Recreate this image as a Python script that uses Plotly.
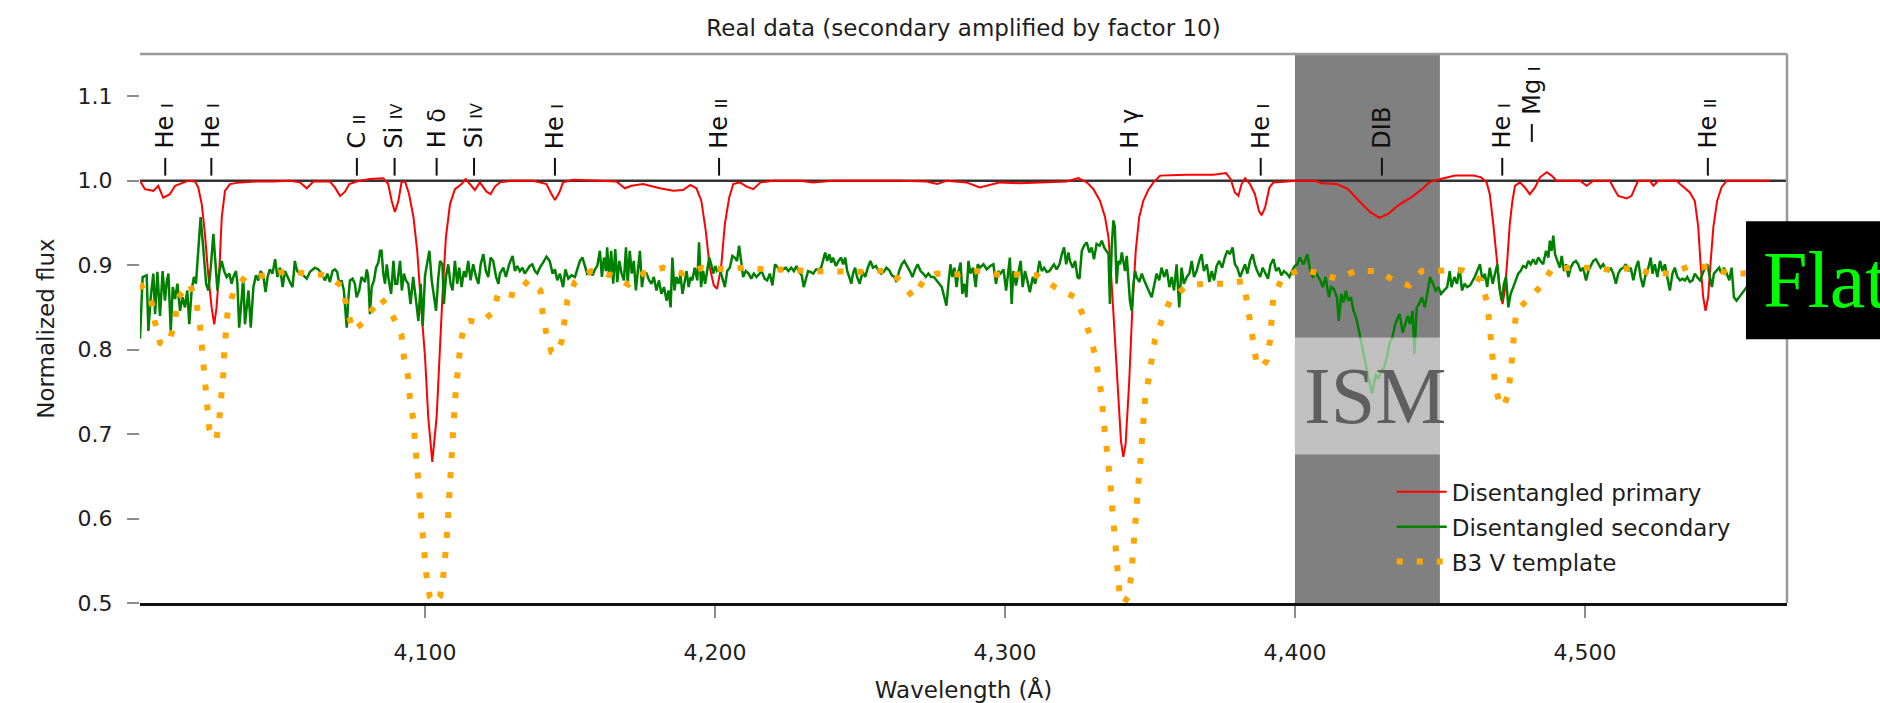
import plotly.graph_objects as go

# ---------------------------------------------------------------- data
# Disentangled primary (normalized flux vs wavelength in Angstrom)
red_wl = [
    4001.7, 4003.4, 4006.3, 4008.0, 4009.7, 4012.0, 4013.8, 4016.1, 4018.4, 4020.7,
    4021.8, 4023.0, 4024.1, 4025.3, 4026.4, 4027.3, 4028.1, 4029.1, 4029.9, 4031.0,
    4032.7, 4036.2, 4041.9, 4047.7, 4053.4, 4056.9, 4059.2, 4061.5, 4067.2, 4068.9,
    4070.7, 4072.4, 4073.9, 4076.4, 4081.0, 4085.6, 4087.3, 4088.5, 4089.6, 4090.8,
    4091.9, 4093.1, 4094.5, 4096.0, 4097.3, 4098.5, 4100.0, 4101.1, 4102.5, 4104.0,
    4104.9, 4106.1, 4107.2, 4108.6, 4110.3, 4112.6, 4114.0, 4115.5, 4117.2, 4118.9,
    4121.2, 4122.6, 4124.1, 4125.8, 4130.4, 4137.3, 4141.9, 4143.3, 4144.8, 4146.3,
    4147.6, 4151.1, 4160.3, 4166.0, 4168.9, 4171.2, 4175.2, 4181.0, 4185.6, 4189.0,
    4191.5, 4193.6, 4195.3, 4196.8, 4198.2, 4199.6, 4200.7, 4202.1, 4203.4, 4204.9,
    4206.3, 4208.6, 4210.9, 4213.2, 4215.7, 4220.1, 4229.3, 4233.8, 4240.7, 4252.2,
    4263.7, 4273.0, 4276.6, 4279.8, 4286.7, 4291.3, 4298.3, 4305.2, 4314.4, 4321.3,
    4325.3, 4328.2, 4330.5, 4332.8, 4334.5, 4335.7, 4336.8, 4338.0, 4339.1, 4340.0,
    4340.8, 4341.6, 4342.8, 4343.9, 4345.1, 4346.3, 4347.7, 4349.4, 4351.2, 4353.5,
    4362.7, 4371.9, 4376.2, 4377.8, 4379.3, 4380.5, 4381.6, 4382.8, 4384.5, 4386.2,
    4387.6, 4388.5, 4389.7, 4391.2, 4392.6, 4400.6, 4406.8, 4409.4, 4414.5, 4418.3,
    4422.1, 4425.9, 4429.1, 4432.3, 4436.1, 4440.0, 4443.8, 4446.3, 4450.2, 4455.3,
    4461.6, 4464.2, 4466.1, 4467.2, 4468.4, 4469.5, 4470.7, 4471.6, 4472.4, 4473.3,
    4474.1, 4475.0, 4475.9, 4477.6, 4479.3, 4481.0, 4482.8, 4484.5, 4486.8, 4488.5,
    4490.2, 4498.3, 4500.6, 4502.9, 4508.6, 4509.8, 4511.5, 4514.4, 4516.1, 4517.3,
    4518.4, 4522.4, 4523.6, 4525.3, 4531.6, 4532.8, 4536.2, 4537.9, 4539.1, 4539.9,
    4540.8, 4541.6, 4542.5, 4543.3, 4544.3, 4545.6, 4547.1, 4548.9, 4555.8, 4563.8,
]
red_flux = [
    1.000, 0.990, 0.988, 0.994, 0.980, 0.984, 0.994, 0.997, 1.000, 0.999,
    0.992, 0.972, 0.937, 0.886, 0.850, 0.830, 0.850, 0.897, 0.957, 0.988,
    0.996, 0.998, 0.999, 0.999, 1.000, 0.998, 0.991, 0.999, 0.999, 0.992,
    0.982, 0.987, 0.996, 0.999, 1.002, 1.003, 0.996, 0.976, 0.963, 0.976,
    0.998, 0.999, 0.984, 0.957, 0.917, 0.858, 0.791, 0.720, 0.667, 0.720,
    0.791, 0.870, 0.933, 0.972, 0.990, 0.996, 1.002, 0.996, 0.989, 0.998,
    0.987, 0.984, 0.993, 0.998, 1.000, 1.000, 0.996, 0.986, 0.977, 0.986,
    0.998, 1.001, 1.000, 0.999, 0.991, 0.994, 0.996, 0.991, 0.988, 0.989,
    0.995, 0.991, 0.976, 0.941, 0.897, 0.876, 0.872, 0.897, 0.949, 0.980,
    0.996, 0.998, 0.993, 0.990, 0.998, 1.000, 1.000, 0.998, 1.000, 1.000,
    1.000, 0.999, 0.996, 1.000, 0.998, 0.992, 0.998, 0.997, 0.998, 0.999,
    1.003, 0.998, 0.990, 0.976, 0.957, 0.933, 0.878, 0.807, 0.736, 0.692,
    0.673, 0.688, 0.759, 0.846, 0.917, 0.957, 0.976, 0.989, 0.998, 1.006,
    1.007, 1.007, 1.009, 1.002, 0.986, 0.982, 0.996, 1.003, 0.996, 0.984,
    0.964, 0.959, 0.968, 0.992, 0.998, 1.000, 1.000, 0.997, 0.996, 0.990,
    0.976, 0.963, 0.956, 0.961, 0.972, 0.980, 0.990, 0.998, 1.002, 1.006,
    1.006, 1.004, 0.998, 0.984, 0.949, 0.909, 0.870, 0.854, 0.870, 0.909,
    0.949, 0.976, 0.994, 0.998, 0.992, 0.984, 0.992, 1.004, 1.010, 1.006,
    1.000, 1.000, 0.994, 1.000, 1.000, 0.992, 0.982, 0.979, 0.982, 0.992,
    1.000, 1.000, 0.994, 1.000, 1.000, 0.996, 0.986, 0.976, 0.945, 0.901,
    0.862, 0.846, 0.862, 0.901, 0.945, 0.976, 0.992, 1.000, 1.000, 1.000,
]

# Disentangled secondary (amplified by a factor 10)
green_wl = [
    4001.7, 4002.6, 4004.0, 4004.6, 4005.4, 4006.3, 4006.9, 4007.7, 4008.6, 4009.5,
    4010.3, 4010.9, 4011.5, 4012.3, 4013.0, 4013.8, 4014.6, 4015.5, 4016.4, 4017.2,
    4018.0, 4018.7, 4019.5, 4020.3, 4021.0, 4021.8, 4022.6, 4023.5, 4024.5, 4025.3,
    4026.1, 4027.0, 4027.7, 4028.4, 4029.1, 4029.9, 4030.7, 4031.6, 4032.5, 4033.3,
    4033.9, 4034.8, 4035.3, 4035.9, 4036.8, 4037.3, 4037.9, 4038.5, 4039.1, 4039.9,
    4040.8, 4041.7, 4042.5, 4043.3, 4044.2, 4045.0, 4045.7, 4046.5, 4047.4, 4048.3,
    4049.1, 4050.0, 4050.9, 4051.7, 4052.5, 4053.4, 4054.3, 4055.1, 4055.9, 4056.9,
    4058.0, 4059.2, 4060.3, 4062.0, 4063.2, 4064.3, 4065.5, 4066.3, 4067.2, 4068.1,
    4068.9, 4069.7, 4070.4, 4071.2, 4072.0, 4073.0, 4073.5, 4074.1, 4075.0, 4075.8,
    4076.4, 4077.3, 4078.1, 4079.3, 4079.9, 4080.4, 4081.0, 4081.6, 4082.4, 4083.1,
    4083.9, 4084.5, 4085.0, 4085.6, 4086.2, 4086.8, 4087.5, 4088.3, 4089.1, 4089.7,
    4090.4, 4091.4, 4092.0, 4092.7, 4093.4, 4094.2, 4095.0, 4095.9, 4096.9, 4097.7,
    4098.5, 4099.2, 4100.0, 4100.5, 4101.5, 4102.3, 4102.8, 4103.8, 4104.6, 4105.2,
    4106.0, 4106.5, 4107.2, 4108.0, 4108.8, 4109.5, 4110.3, 4111.1, 4111.8, 4112.6,
    4113.4, 4114.1, 4114.9, 4115.7, 4116.6, 4117.6, 4118.4, 4119.2, 4120.1, 4121.0,
    4121.8, 4122.6, 4123.5, 4124.5, 4125.3, 4125.8,
    4127.0, 4127.9, 4129.0, 4130.2, 4131.0, 4131.8, 4132.7, 4133.6, 4134.4, 4135.2,
    4136.1, 4137.0, 4137.9, 4138.7, 4139.6, 4140.7, 4141.9, 4143.0, 4144.0, 4144.8,
    4145.6, 4146.5, 4147.6, 4148.4, 4149.4, 4150.5, 4151.7, 4152.5, 4153.4, 4154.3,
    4155.1, 4155.9, 4156.8, 4157.8, 4158.6, 4159.4, 4160.3, 4161.0, 4161.7, 4162.4,
    4162.8, 4163.5, 4164.2, 4164.9, 4165.6, 4166.3, 4167.0, 4167.8, 4168.6, 4169.3,
    4169.9, 4170.6, 4171.3, 4172.0, 4172.7, 4173.5, 4174.1, 4174.8, 4175.5, 4176.4,
    4177.3, 4178.1, 4178.9, 4179.8, 4180.7, 4181.5, 4182.4, 4183.3, 4184.0, 4184.7,
    4185.3, 4186.0, 4186.7, 4187.4, 4188.1, 4188.8, 4189.5, 4190.2, 4190.9, 4191.6,
    4192.2, 4193.0, 4193.9, 4194.5, 4195.2, 4195.9, 4196.6, 4197.3, 4198.0, 4198.7,
    4199.4, 4200.1, 4200.7, 4201.7, 4202.6, 4203.4, 4204.2, 4205.1, 4206.0, 4206.8,
    4207.6, 4208.3, 4209.0, 4209.7, 4210.6, 4211.6, 4212.5, 4213.4, 4214.3, 4215.2,
    4216.1, 4217.1, 4218.0, 4218.9, 4219.8, 4220.7, 4221.7, 4222.6, 4223.5, 4224.4,
    4225.3, 4226.3, 4227.2, 4228.1, 4229.0, 4229.9, 4230.6, 4231.3, 4232.1, 4232.9,
    4233.9, 4234.8, 4235.7, 4236.6, 4237.3, 4238.0, 4238.7, 4239.4, 4240.1, 4240.7,
    4241.7, 4242.6, 4243.5, 4244.2, 4244.9, 4245.6, 4246.3, 4247.0, 4247.6, 4248.3,
    4249.0, 4249.9, 4250.9, 4251.8, 4252.7, 4253.6, 4254.5, 4255.5, 4256.4, 4257.3,
    4258.2, 4259.1, 4260.1, 4261.0, 4261.9, 4262.6, 4263.5, 4264.4, 4265.3, 4266.3,
    4267.2, 4268.1, 4269.0, 4269.9, 4270.9, 4271.8, 4272.7, 4273.6, 4274.5, 4275.5,
    4276.4, 4277.3, 4278.2, 4279.1, 4279.8, 4280.5, 4281.2, 4281.9, 4282.6, 4283.3,
    4284.0, 4284.7, 4285.3, 4286.0, 4286.7, 4287.4, 4288.1, 4289.0, 4289.9, 4290.6,
    4291.4, 4292.6, 4293.7, 4294.9, 4296.0, 4296.9, 4297.7, 4298.5, 4299.5, 4300.4,
    4301.2, 4301.7, 4302.3, 4302.9, 4303.8, 4304.6, 4305.4, 4306.1, 4306.9, 4307.7,
    4308.6, 4309.6, 4310.4, 4311.2, 4311.9, 4312.7, 4313.5, 4314.4, 4315.3, 4316.1,
    4316.9, 4317.8, 4318.8, 4319.6, 4320.4, 4321.1, 4321.9, 4322.4, 4323.4, 4324.2,
    4325.0, 4325.7, 4326.5, 4327.3, 4328.2, 4329.1, 4329.9, 4330.7, 4331.6, 4332.6,
    4333.4, 4334.2, 4334.9, 4335.7, 4336.2, 4336.8, 4337.4, 4337.9, 4338.5, 4339.1,
    4339.7, 4340.3, 4340.8, 4341.4, 4342.0, 4342.6, 4343.1, 4343.7, 4344.3, 4344.9,
    4345.4, 4346.3, 4347.2, 4348.0, 4348.9, 4349.8, 4350.6, 4351.4, 4352.3, 4353.2,
    4354.0, 4354.9, 4355.8, 4356.7, 4357.5, 4358.3, 4359.2, 4360.1, 4360.9, 4361.7,
    4362.7, 4363.6, 4364.4, 4365.2, 4366.1, 4367.0, 4367.8, 4368.6, 4369.6, 4370.5,
    4371.3, 4372.1, 4373.0, 4373.9, 4374.9, 4375.8, 4376.7, 4377.6, 4378.5, 4379.3,
    4380.1, 4381.1, 4382.0, 4382.8, 4383.6, 4384.5, 4385.4, 4386.2, 4387.0, 4388.0,
    4388.9, 4389.8, 4390.7, 4391.6, 4392.6, 4393.5, 4394.4, 4395.3, 4396.2, 4397.2,
    4398.1, 4399.0, 4399.9, 4400.8,
    4401.7, 4403.0, 4404.3, 4405.3, 4406.2, 4407.4, 4408.7, 4409.6, 4410.6, 4411.7,
    4412.5, 4413.4, 4414.5, 4415.1, 4416.0, 4416.8, 4417.6, 4418.3, 4419.3, 4420.2,
    4421.1, 4422.1, 4423.1, 4424.4, 4425.4, 4426.6, 4427.9, 4428.7, 4429.8, 4430.8,
    4431.7, 4432.6, 4433.6, 4434.6, 4435.5, 4436.1, 4437.2, 4438.1, 4438.9, 4439.7,
    4440.6, 4441.2, 4442.0, 4442.8, 4443.8, 4444.8, 4445.7, 4446.6, 4447.6, 4448.6,
    4449.5, 4450.4, 4451.4, 4452.5, 4453.4, 4454.0, 4455.0, 4455.9, 4456.8, 4457.6,
    4458.5, 4459.4, 4460.4,
    4462.0, 4463.8, 4464.7, 4465.5, 4466.3, 4467.2, 4468.2, 4469.0, 4469.8, 4470.5,
    4471.3, 4472.1, 4472.8, 4473.6, 4474.4, 4475.3, 4476.2, 4477.0, 4477.8, 4478.7,
    4479.7, 4480.5, 4481.3, 4482.2, 4483.1, 4483.9, 4484.7, 4485.6, 4486.6, 4487.4,
    4487.9, 4488.5, 4489.1, 4489.7, 4490.5, 4491.4, 4492.0, 4492.8, 4493.5, 4494.3,
    4495.1, 4496.0, 4496.9, 4497.7, 4498.5, 4499.4, 4500.4, 4501.2, 4502.0, 4502.9,
    4503.8, 4504.6, 4505.4, 4506.3, 4507.3, 4508.1, 4508.9, 4509.8, 4510.7, 4511.5,
    4512.3, 4513.2, 4514.1, 4515.0, 4515.8, 4516.7, 4517.6, 4518.4, 4519.2, 4520.1,
    4521.0, 4521.9, 4522.7, 4523.3, 4524.1, 4525.0, 4525.9, 4526.8, 4527.6, 4528.4,
    4529.3, 4530.2, 4531.0, 4531.9, 4532.8, 4533.7, 4534.5, 4535.3, 4536.2, 4537.1,
    4537.9, 4538.7, 4539.7, 4540.6, 4541.4, 4542.2, 4543.1, 4543.8, 4544.5, 4545.4,
    4546.3, 4547.1, 4547.9, 4548.9, 4549.8, 4550.6, 4551.4, 4552.3, 4553.2, 4554.0,
    4554.8, 4555.8, 4560.0, 4563.5,
]
green_flux = [
    0.813, 0.886, 0.888, 0.822, 0.862, 0.890, 0.842, 0.892, 0.840, 0.893,
    0.858, 0.880, 0.890, 0.822, 0.874, 0.860, 0.878, 0.846, 0.862, 0.850,
    0.870, 0.830, 0.870, 0.886, 0.878, 0.917, 0.957, 0.921, 0.878, 0.870,
    0.897, 0.937, 0.905, 0.870, 0.893, 0.905, 0.893, 0.886, 0.890, 0.878,
    0.886, 0.893, 0.878, 0.826, 0.862, 0.886, 0.830, 0.850, 0.870, 0.826,
    0.874, 0.888, 0.882, 0.893, 0.888, 0.868, 0.886, 0.895, 0.890, 0.907,
    0.886, 0.897, 0.874, 0.893, 0.886, 0.880, 0.874, 0.905, 0.893, 0.890,
    0.888, 0.884, 0.892, 0.897, 0.895, 0.890, 0.882, 0.890, 0.880, 0.893,
    0.895, 0.892, 0.878, 0.882, 0.870, 0.826, 0.858, 0.882, 0.884, 0.878,
    0.862, 0.870, 0.886, 0.880, 0.895, 0.886, 0.842, 0.874, 0.882, 0.897,
    0.903, 0.917, 0.917, 0.890, 0.878, 0.901, 0.882, 0.866, 0.905, 0.878,
    0.878, 0.905, 0.870, 0.890, 0.882, 0.878, 0.854, 0.886, 0.858, 0.834,
    0.878, 0.828, 0.888, 0.897, 0.917, 0.882, 0.870, 0.846, 0.886, 0.905,
    0.901, 0.854, 0.886, 0.901, 0.878, 0.870, 0.905, 0.878, 0.897, 0.874,
    0.893, 0.886, 0.905, 0.882, 0.901, 0.886, 0.878, 0.901, 0.913, 0.893,
    0.886, 0.909, 0.905, 0.886, 0.878, 0.890,
    0.897, 0.886, 0.901, 0.911, 0.893, 0.899, 0.893, 0.897, 0.890, 0.895,
    0.899, 0.901, 0.893, 0.890, 0.897, 0.903, 0.910, 0.905, 0.890, 0.895,
    0.882, 0.890, 0.874, 0.895, 0.884, 0.888, 0.886, 0.895, 0.905, 0.909,
    0.899, 0.890, 0.893, 0.888, 0.895, 0.899, 0.917, 0.886, 0.909, 0.893,
    0.921, 0.886, 0.917, 0.878, 0.919, 0.880, 0.905, 0.890, 0.882, 0.921,
    0.878, 0.917, 0.890, 0.905, 0.870, 0.901, 0.917, 0.874, 0.890, 0.890,
    0.882, 0.878, 0.886, 0.870, 0.882, 0.866, 0.874, 0.858, 0.870, 0.850,
    0.909, 0.870, 0.886, 0.878, 0.888, 0.866, 0.878, 0.893, 0.874, 0.886,
    0.882, 0.897, 0.882, 0.927, 0.874, 0.893, 0.878, 0.897, 0.909, 0.901,
    0.890, 0.899, 0.893, 0.895, 0.882, 0.874, 0.893, 0.897, 0.911, 0.909,
    0.905, 0.923, 0.905, 0.886, 0.893, 0.890, 0.884, 0.890, 0.886, 0.890,
    0.893, 0.884, 0.882, 0.890, 0.876, 0.901, 0.897, 0.893, 0.895, 0.897,
    0.893, 0.897, 0.893, 0.899, 0.892, 0.888, 0.874, 0.884, 0.893, 0.892,
    0.890, 0.895, 0.895, 0.897, 0.905, 0.915, 0.905, 0.913, 0.903, 0.909,
    0.899, 0.905, 0.909, 0.901, 0.909, 0.893, 0.886, 0.878, 0.890, 0.897,
    0.886, 0.878, 0.892, 0.886, 0.897, 0.905, 0.897, 0.899, 0.893, 0.890,
    0.892, 0.897, 0.894, 0.888, 0.886, 0.880, 0.893, 0.901, 0.905, 0.899,
    0.893, 0.886, 0.895, 0.901, 0.893, 0.890, 0.886, 0.890, 0.886, 0.886,
    0.882, 0.878, 0.874, 0.862, 0.852, 0.878, 0.901, 0.886, 0.897, 0.874,
    0.893, 0.903, 0.866, 0.878, 0.862, 0.905, 0.890, 0.897, 0.874, 0.901,
    0.897, 0.901, 0.895, 0.899, 0.901, 0.878, 0.893, 0.890, 0.895, 0.870,
    0.890, 0.909, 0.854, 0.893, 0.876, 0.890, 0.905, 0.874, 0.893, 0.882,
    0.868, 0.886, 0.878, 0.890, 0.905, 0.893, 0.897, 0.892, 0.893, 0.897,
    0.901, 0.895, 0.901, 0.913, 0.921, 0.901, 0.915, 0.905, 0.897, 0.905,
    0.886, 0.884, 0.917, 0.923, 0.927, 0.915, 0.921, 0.907, 0.925, 0.923,
    0.929, 0.921, 0.917, 0.913, 0.854, 0.921, 0.953, 0.945, 0.878, 0.905,
    0.901, 0.915, 0.905, 0.893, 0.911, 0.878, 0.858, 0.846, 0.878, 0.893,
    0.886, 0.880, 0.890, 0.882, 0.874, 0.868, 0.862, 0.874, 0.890, 0.882,
    0.897, 0.886, 0.895, 0.874, 0.886, 0.870, 0.901, 0.850, 0.897, 0.878,
    0.886, 0.890, 0.905, 0.886, 0.893, 0.905, 0.913, 0.893, 0.901, 0.880,
    0.893, 0.882, 0.899, 0.905, 0.897, 0.909, 0.917, 0.913, 0.921, 0.901,
    0.897, 0.886, 0.893, 0.901, 0.890, 0.905, 0.913, 0.901, 0.893, 0.886,
    0.897, 0.890, 0.884, 0.901, 0.907, 0.893, 0.897, 0.888, 0.893, 0.890,
    0.886, 0.893, 0.899, 0.901,
    0.909, 0.901, 0.913, 0.893, 0.886, 0.890, 0.882, 0.874, 0.886, 0.862,
    0.874, 0.872, 0.862, 0.834, 0.866, 0.856, 0.870, 0.858, 0.862, 0.846,
    0.838, 0.822, 0.803, 0.783, 0.767, 0.748, 0.771, 0.765, 0.775, 0.779,
    0.791, 0.807, 0.815, 0.830, 0.838, 0.842, 0.820, 0.832, 0.840, 0.830,
    0.846, 0.795, 0.850, 0.854, 0.862, 0.850, 0.866, 0.886, 0.878, 0.870,
    0.874, 0.866, 0.870, 0.874, 0.893, 0.874, 0.886, 0.878, 0.897, 0.870,
    0.878, 0.874, 0.876,
    0.886, 0.901, 0.882, 0.890, 0.874, 0.897, 0.878, 0.890, 0.901, 0.874,
    0.858, 0.878, 0.886, 0.850, 0.866, 0.874, 0.882, 0.890, 0.893, 0.899,
    0.897, 0.905, 0.901, 0.907, 0.901, 0.909, 0.905, 0.901, 0.917, 0.909,
    0.929, 0.917, 0.935, 0.913, 0.905, 0.897, 0.911, 0.893, 0.901, 0.886,
    0.897, 0.903, 0.905, 0.901, 0.893, 0.897, 0.882, 0.893, 0.899, 0.905,
    0.907, 0.901, 0.897, 0.901, 0.895, 0.893, 0.897, 0.890, 0.878, 0.890,
    0.895, 0.897, 0.901, 0.893, 0.897, 0.882, 0.897, 0.905, 0.886, 0.874,
    0.890, 0.897, 0.909, 0.890, 0.901, 0.886, 0.905, 0.893, 0.901, 0.886,
    0.870, 0.890, 0.897, 0.886, 0.882, 0.884, 0.882, 0.886, 0.880, 0.882,
    0.890, 0.886, 0.882, 0.890, 0.897, 0.901, 0.886, 0.874, 0.890, 0.893,
    0.897, 0.890, 0.897, 0.890, 0.882, 0.897, 0.862, 0.858, 0.862, 0.866,
    0.870, 0.874, 0.872, 0.868,
]

# B3 V template spectrum
tmpl_wl = [
    4001.7, 4005.7, 4006.9, 4008.6, 4010.3, 4012.0, 4013.8, 4014.9, 4018.9, 4021.2,
    4022.4, 4023.0, 4023.5, 4024.1, 4024.7, 4025.6, 4027.0, 4028.1, 4029.1, 4029.9,
    4030.4, 4030.7, 4031.4, 4031.9, 4033.9, 4037.9, 4045.4, 4052.3, 4059.2, 4066.1,
    4071.8, 4073.0, 4075.3, 4079.3, 4084.5, 4087.3, 4089.1, 4091.9, 4092.7, 4094.2,
    4094.8, 4095.9, 4096.5, 4097.3, 4097.7, 4098.3, 4098.8, 4099.4, 4100.4, 4101.6,
    4103.4, 4105.2, 4106.4, 4107.4, 4107.8, 4108.1, 4108.4, 4108.6, 4109.2, 4109.8,
    4110.3, 4110.9, 4111.5, 4112.3, 4113.8, 4115.5, 4118.9, 4123.5, 4125.3, 4131.0,
    4135.6, 4139.8, 4140.5, 4141.7, 4143.6, 4145.3, 4147.1, 4148.2, 4149.1, 4151.7,
    4157.4, 4164.3, 4170.1, 4175.2, 4182.1, 4189.0, 4195.9, 4203.4, 4210.3, 4217.8,
    4225.2, 4232.1, 4239.0, 4245.9, 4252.8, 4259.7, 4264.3, 4268.3, 4271.8, 4276.4,
    4283.8, 4290.2, 4297.1, 4304.0, 4310.9, 4317.3, 4324.2, 4327.0, 4329.3, 4331.1,
    4332.2, 4333.4, 4333.9, 4334.8, 4335.3, 4336.2, 4336.8, 4337.4, 4337.7, 4338.6,
    4339.6, 4341.0, 4342.6, 4343.6, 4344.3, 4344.9, 4345.4, 4346.0, 4346.6, 4347.1,
    4347.7, 4348.3, 4349.4, 4350.6, 4351.7, 4354.0, 4356.9, 4362.7, 4369.6, 4375.9,
    4382.2, 4383.4, 4384.5, 4385.7, 4386.8, 4388.5, 4390.3, 4391.4, 4392.0, 4392.5,
    4395.4, 4401.7, 4407.4, 4414.5, 4420.8, 4428.5, 4434.2, 4439.3, 4443.8, 4451.4,
    4457.8, 4464.2, 4466.1, 4467.0, 4467.8, 4468.4, 4469.0, 4470.7, 4472.1, 4473.6,
    4474.4, 4475.1, 4475.6, 4476.4, 4479.9, 4485.1, 4488.5, 4495.4, 4502.9, 4509.5,
    4516.5, 4522.9, 4529.3, 4535.6, 4542.6, 4549.7, 4554.8, 4563.8,
]
tmpl_flux = [
    0.878, 0.856, 0.832, 0.808, 0.805, 0.811, 0.836, 0.862, 0.878, 0.854,
    0.828, 0.803, 0.779, 0.753, 0.730, 0.706, 0.694, 0.694, 0.720, 0.743,
    0.770, 0.794, 0.819, 0.844, 0.868, 0.886, 0.888, 0.893, 0.890, 0.888,
    0.874, 0.848, 0.822, 0.834, 0.862, 0.850, 0.838, 0.817, 0.791, 0.767,
    0.742, 0.718, 0.693, 0.667, 0.643, 0.619, 0.596, 0.572, 0.535, 0.508,
    0.500, 0.508, 0.535, 0.572, 0.596, 0.619, 0.641, 0.665, 0.688, 0.714,
    0.738, 0.761, 0.785, 0.809, 0.832, 0.834, 0.832, 0.844, 0.868, 0.864,
    0.882, 0.870, 0.845, 0.821, 0.797, 0.795, 0.810, 0.834, 0.858, 0.880,
    0.893, 0.888, 0.877, 0.890, 0.897, 0.890, 0.897, 0.895, 0.897, 0.895,
    0.895, 0.893, 0.893, 0.893, 0.892, 0.894, 0.880, 0.862, 0.881, 0.890,
    0.889, 0.893, 0.889, 0.889, 0.888, 0.874, 0.862, 0.840, 0.817, 0.793,
    0.769, 0.744, 0.720, 0.694, 0.671, 0.647, 0.621, 0.598, 0.572, 0.535,
    0.508, 0.500, 0.508, 0.535, 0.572, 0.598, 0.621, 0.641, 0.665, 0.690,
    0.716, 0.740, 0.763, 0.788, 0.811, 0.834, 0.858, 0.876, 0.878, 0.878,
    0.881, 0.858, 0.832, 0.807, 0.783, 0.779, 0.787, 0.811, 0.836, 0.860,
    0.884, 0.895, 0.891, 0.884, 0.893, 0.893, 0.882, 0.876, 0.893, 0.893,
    0.894, 0.882, 0.858, 0.834, 0.808, 0.785, 0.759, 0.734, 0.733, 0.748,
    0.771, 0.797, 0.822, 0.846, 0.858, 0.876, 0.895, 0.897, 0.897, 0.894,
    0.897, 0.890, 0.890, 0.898, 0.898, 0.890, 0.890, 0.893,
]

# identified spectral lines: wavelength, ion, ionisation stage, label row
line_wl = [4010.4, 4026.3, 4076.5, 4089.5, 4104.0, 4116.9, 4144.8,
           4201.4, 4343.1, 4388.2, 4430.0, 4471.5, 4481.7, 4542.4]
line_ion = ["He", "He", "C", "Si", "H", "Si", "He",
            "He", "H", "He", "DIB", "He", "Mg", "He"]
line_stage = ["I", "I", "II", "IV", "δ", "IV", "I",
              "II", "γ", "I", "", "I", "I", "II"]
line_row = [0, 0, 0, 0, 0, 0, 0, 0, 0, 0, 0, 0, 1, 0]

dib_band = [4400, 4450]          # interstellar band region
ism_flux = [0.6757, 0.8142]      # vertical extent of the ISM tag

x_range = [4001.7, 4569.7]
y_range = [0.5, 1.15]
x_ticks = [4100, 4200, 4300, 4400, 4500]
y_ticks = [0.5, 0.6, 0.7, 0.8, 0.9, 1.0, 1.1]

# ---------------------------------------------------------------- figure
FONT = "DejaVu Sans"
SERIF = "Liberation Serif"
INK = "#1e1e1e"

fig = go.Figure()
fig.add_trace(go.Scatter(
    x=red_wl, y=red_flux, mode="lines", name="Disentangled primary",
    legendgroup="p", line=dict(color="#ff0000", width=2)))
fig.add_trace(go.Scatter(
    x=green_wl, y=green_flux, mode="lines", name="Disentangled secondary",
    legendgroup="s", line=dict(color="#008000", width=2.5)))
fig.add_trace(go.Scatter(
    x=tmpl_wl, y=tmpl_flux, mode="lines", name="B3 V template",
    legendgroup="t", line=dict(color="#ffa500", width=6, dash="6px,14px")))

shapes = [
    # DIB region shading
    dict(type="rect", xref="x", yref="paper", x0=dib_band[0], x1=dib_band[1],
         y0=0, y1=1, fillcolor="#808080", line=dict(width=0), layer="below"),
    # continuum level
    dict(type="line", xref="paper", yref="y", x0=0, x1=1, y0=1.0, y1=1.0,
         line=dict(color="#333333", width=2.5), layer="below"),
    # translucent ISM tag
    dict(type="rect", xref="x", yref="y", x0=dib_band[0], x1=dib_band[1],
         y0=ism_flux[0], y1=ism_flux[1], fillcolor="rgba(255,255,255,0.5)",
         line=dict(width=0), layer="above"),
    # frame: top and right edges
    dict(type="line", xref="paper", yref="paper", x0=0, x1=1, y0=1, y1=1,
         line=dict(color="#9a9a9a", width=2.5)),
    dict(type="line", xref="paper", yref="paper", x0=1, x1=1, y0=0, y1=1,
         line=dict(color="#9a9a9a", width=2.5)),
]

annotations = []
ROMAN = {"I", "II", "III", "IV", "V"}
for wl, ion, stage, row in zip(line_wl, line_ion, line_stage, line_row):
    lift = 0.04 * row
    shapes.append(dict(type="line", xref="x", yref="y", x0=wl, x1=wl,
                       y0=1.006 + lift, y1=1.027 + lift,
                       line=dict(color="#111111", width=2)))
    if stage in ROMAN:
        label = f"{ion} <span style='font-size:16px'>{stage}</span>"
    elif stage:
        label = f"{ion} {stage}"
    else:
        label = ion
    annotations.append(dict(
        x=wl, y=1.0355 + lift, xref="x", yref="y", text=label,
        textangle=-90, showarrow=False, xanchor="center", yanchor="bottom",
        font=dict(family=FONT, size=24, color="#111111")))

# ISM tag text
annotations.append(dict(
    x=dib_band[0] + 2.3, y=sum(ism_flux) / 2, xref="x", yref="y", text="ISM",
    showarrow=False, xanchor="left", yanchor="middle",
    font=dict(family=SERIF, size=80, color="#5f5f5f")))

# "Flat" tag at the right edge
shapes.append(dict(type="rect", xref="paper", yref="paper",
                   x0=0.9751, x1=1.2, y0=0.4804, y1=0.6955,
                   fillcolor="#000000", line=dict(width=0), layer="above"))
annotations.append(dict(
    x=0.9842, y=0.588, xref="paper", yref="paper", text="Flat",
    showarrow=False, xanchor="left", yanchor="middle",
    font=dict(family=SERIF, size=80, color="#00ff00")))

fig.update_layout(
    template="none",
    width=1880, height=703,
    margin=dict(l=140, r=93, t=54, b=100, pad=0),
    paper_bgcolor="white", plot_bgcolor="white",
    font=dict(family=FONT, size=22, color=INK),
    title=dict(text="Real data (secondary amplified by factor 10)",
               x=0.5, xref="paper", xanchor="center",
               y=1 - 28 / 703, yref="container", yanchor="middle",
               font=dict(family=FONT, size=23, color=INK)),
    xaxis=dict(range=x_range, tickvals=x_ticks, tickformat=",d",
               ticks="outside", ticklen=12, tickwidth=1.5, tickcolor="#8c8c8c",
               showline=True, linecolor="#111111", linewidth=3,
               showgrid=False, zeroline=False,
               tickfont=dict(family=FONT, size=22, color=INK),
               ticklabelstandoff=16,
               title=dict(text="Wavelength (Å)", standoff=20,
                          font=dict(family=FONT, size=23, color=INK))),
    yaxis=dict(range=y_range, tickvals=y_ticks, tickformat=".1f",
               ticks="outside", ticklen=12, tickwidth=1.5, tickcolor="#8c8c8c",
               showline=False, showgrid=False, zeroline=False,
               tickfont=dict(family=FONT, size=22, color=INK),
               ticklabelstandoff=10,
               title=dict(text="Normalized flux", standoff=16,
                          font=dict(family=FONT, size=23, color=INK))),
    legend=dict(x=0.760, y=0.2416, xanchor="left", yanchor="top",
                bgcolor="rgba(0,0,0,0)", borderwidth=0,
                font=dict(family=FONT, size=23, color=INK),
                tracegroupgap=2, itemwidth=50),
    shapes=shapes,
    annotations=annotations,
)

fig.write_html("out.html")
